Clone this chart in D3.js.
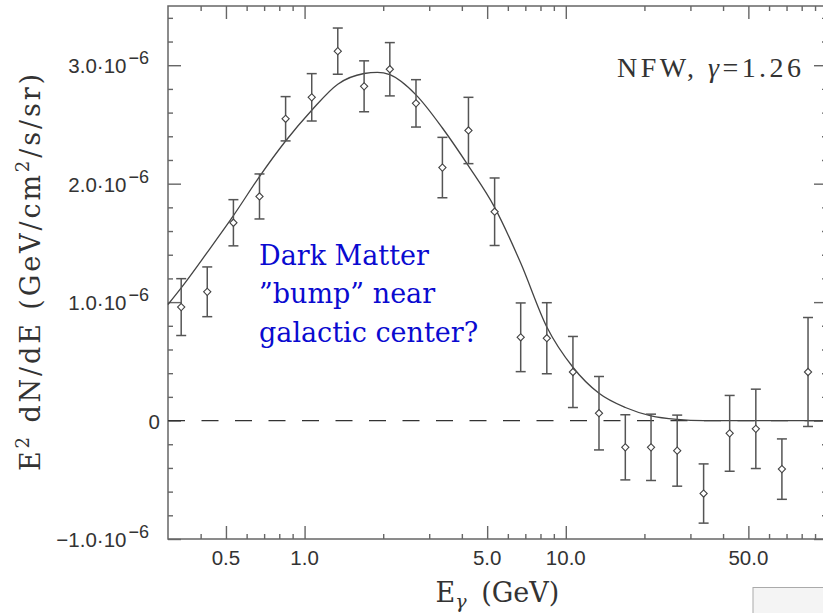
<!DOCTYPE html>
<meta charset="utf-8">
<style>
  body{ margin:0; background:#fff; }
  text.tick{ fill:#333; font-family:"Liberation Sans", Arial, sans-serif; font-size:20.5px; }
  text.serif{ fill:#333; font-family:"DejaVu Serif", serif; }
</style>

<svg width="823" height="613"></svg>

<script src="https://cdn.jsdelivr.net/npm/d3@7/dist/d3.min.js"></script>
<script>
  // data (flux in units of 1e-6 GeV/cm2/s/sr)
  const energies = [0.337, 0.424, 0.534, 0.672, 0.846, 1.065, 1.34, 1.69, 2.12, 2.67,
                    3.37, 4.24, 5.34, 6.72, 8.46, 10.65, 13.4, 16.9, 21.2, 26.7,
                    33.7, 42.4, 53.4, 67.2, 84.6]
  const fluxes = [0.958, 1.087, 1.67, 1.892, 2.548, 2.729, 3.119, 2.822, 2.966, 2.678,
                  2.136, 2.449, 1.763, 0.703, 0.695, 0.41, 0.062, -0.226, -0.226, -0.254,
                  -0.616, -0.108, -0.07, -0.41, 0.41]
  const errors = [0.24, 0.21, 0.195, 0.19, 0.187, 0.20, 0.195, 0.215, 0.225, 0.20,
                  0.255, 0.28, 0.285, 0.29, 0.30, 0.30, 0.31, 0.275, 0.28, 0.30,
                  0.25, 0.32, 0.335, 0.255, 0.46]

  // fitted model curve
  const curveE = [0.3, 0.337, 0.424, 0.534, 0.672, 0.846, 1.065, 1.34, 1.69, 1.9, 2.12, 2.67,
                  3.37, 4.24, 5.34, 6.72, 8.46, 10.65, 13.4, 16.9, 21.2, 26.7, 33.7, 100]
  const curveFlux = [0.98, 1.12, 1.42, 1.73, 2.06, 2.36, 2.62, 2.84, 2.93, 2.94, 2.92, 2.75,
                     2.47, 2.15, 1.80, 1.33, 0.79, 0.45, 0.23, 0.11, 0.04, 0.01, 0, 0]

  // ticks
  const xMajor = [0.5, 1, 5, 10, 50, 100]
  const xLabels = [0.5, 1, 5, 10, 50]
  const xMinor = [0.4, 0.6, 0.7, 0.8, 0.9, 2, 3, 4, 6, 7, 8, 9, 20, 30, 40, 60, 70, 80, 90]
  const yMajor = [-1, 0, 1, 2, 3]
  const yMinor = [-0.8, -0.6, -0.4, -0.2, 0.2, 0.4, 0.6, 0.8, 1.2, 1.4, 1.6, 1.8,
                  2.2, 2.4, 2.6, 2.8, 3.2, 3.4]

  const plot = {left: 168, right: 827, top: 6, bottom: 539}
  const axisColor = '#666'

  const svg = d3.select('svg')

  const x = d3.scaleLog().domain([0.3, 100]).range([plot.left, plot.right])
  const y = d3.scaleLinear().domain([-1, 3.5]).range([plot.bottom, plot.top])

  // frame
  svg.append('rect')
    .attr('x', plot.left).attr('y', plot.top)
    .attr('width', plot.right - plot.left).attr('height', plot.bottom - plot.top)
    .attr('fill', 'none').attr('stroke', axisColor).attr('stroke-width', 1.5)

  // inward ticks on all four sides
  function ticks(axisFn, scale, vals, size, tx, ty){
    svg.append('g')
      .attr('transform', 'translate('+tx+','+ty+')')
      .attr('color', axisColor)
      .call(axisFn(scale).tickValues(vals).tickSize(size).tickFormat(''))
      .call(g=>g.select('.domain').remove())
      .selectAll('line').attr('stroke-width', 1.4)
  }
  ticks(d3.axisBottom, x, xMajor, -13, 0, plot.bottom)
  ticks(d3.axisBottom, x, xMinor, -5, 0, plot.bottom)
  ticks(d3.axisTop, x, xMajor, -13, 0, plot.top)
  ticks(d3.axisTop, x, xMinor, -5, 0, plot.top)
  ticks(d3.axisLeft, y, yMajor, -13, plot.left, 0)
  ticks(d3.axisLeft, y, yMinor, -5, plot.left, 0)
  ticks(d3.axisLeft, y, yMajor, 13, plot.right, 0)
  ticks(d3.axisLeft, y, yMinor, 5, plot.right, 0)

  // x tick labels
  svg.selectAll('text.xlab')
    .data(xLabels)
    .enter()
    .append('text')
    .attr('class', 'tick')
    .attr('x', d=>x(d))
    .attr('y', 565)
    .attr('text-anchor', 'middle')
    .text(d=>d3.format('.1f')(d))

  // y tick labels: m·10^-6
  const ylab = svg.selectAll('text.ylab')
    .data(yMajor)
    .enter()
    .append('text')
    .attr('class', 'tick')
    .attr('x', d=> d === 0 ? 160 : 149)
    .attr('y', d=>y(d) + 8)
    .attr('text-anchor', 'end')
  ylab.append('tspan')
    .text(d=> d === 0 ? '0' : d3.format('.1f')(d).replace('-', '\u2212') + '\u00b710')
  ylab.filter(d=>d !== 0).append('tspan')
    .attr('dy', -9).attr('dx', 2)
    .style('font-size', '18px')
    .text('\u22126')

  // zero line
  svg.append('line')
    .attr('x1', plot.left).attr('x2', plot.right)
    .attr('y1', y(0)).attr('y2', y(0))
    .attr('stroke', '#333').attr('stroke-width', 1.3)
    .attr('stroke-dasharray', '17,16.5')

  // model curve
  const line = d3.line()
    .x((d, i)=>x(curveE[i]))
    .y(d=>y(d))
    .curve(d3.curveMonotoneX)
  svg.append('path')
    .attr('d', line(curveFlux))
    .attr('fill', 'none')
    .attr('stroke', '#444')
    .attr('stroke-width', 1.3)

  // error bars
  const bars = svg.selectAll('g.bar')
    .data(fluxes)
    .enter()
    .append('g')
    .attr('transform', (d, i)=>'translate('+x(energies[i])+',0)')
    .attr('stroke', '#555')
    .attr('stroke-width', 1.5)
  bars.append('line')
    .attr('y1', (d, i)=>y(d + errors[i]))
    .attr('y2', (d, i)=>y(d - errors[i]))
  bars.append('line')
    .attr('x1', -5).attr('x2', 5)
    .attr('y1', (d, i)=>y(d + errors[i])).attr('y2', (d, i)=>y(d + errors[i]))
  bars.append('line')
    .attr('x1', -5).attr('x2', 5)
    .attr('y1', (d, i)=>y(d - errors[i])).attr('y2', (d, i)=>y(d - errors[i]))
  bars.append('path')
    .attr('d', d3.symbol().type(d3.symbolSquare).size(26)())
    .attr('transform', d=>'translate(0,'+y(d)+') rotate(45)')
    .attr('fill', '#fff')
    .attr('stroke', '#444')
    .attr('stroke-width', 1.1)

  // axis titles
  const xt = svg.append('text')
    .attr('class', 'serif')
    .attr('x', (plot.left + plot.right)/2)
    .attr('y', 602)
    .attr('text-anchor', 'middle')
    .style('font-size', '27px')
  xt.append('tspan').text('E')
  xt.append('tspan').attr('dy', 6).style('font-size', '19px').style('font-style', 'italic').text('\u03b3')
  xt.append('tspan').attr('dy', -6).attr('dx', 6).text(' (GeV)')

  const yt = svg.append('text')
    .attr('class', 'serif')
    .attr('transform', 'translate(40,'+((plot.top + plot.bottom)/2)+') rotate(-90)')
    .attr('text-anchor', 'middle')
    .attr('textLength', 397)
    .attr('lengthAdjust', 'spacing')
    .style('font-size', '27px')
  yt.append('tspan').text('E')
  yt.append('tspan').attr('dy', -11).style('font-size', '18px').text('2')
  yt.append('tspan').attr('dy', 11).text(' dN/dE  (GeV/cm')
  yt.append('tspan').attr('dy', -11).style('font-size', '18px').text('2')
  yt.append('tspan').attr('dy', 11).text('/s/sr)')

  // model label
  const nfw = svg.append('text')
    .attr('class', 'serif')
    .attr('x', 617).attr('y', 77)
    .attr('textLength', 184)
    .attr('lengthAdjust', 'spacing')
    .style('font-family', '"Liberation Serif", serif')
    .style('font-size', '28px')
  nfw.append('tspan').text('NFW,  ')
  nfw.append('tspan').style('font-style', 'italic').text('\u03b3')
  nfw.append('tspan').text('=1.26')

  // annotation
  const note = ['Dark Matter', '\u201dbump\u201d near', 'galactic center?']
  svg.selectAll('text.note')
    .data(note)
    .enter()
    .append('text')
    .attr('x', 259)
    .attr('y', (d, i)=>265 + i*38.3)
    .style('font-family', '"DejaVu Serif", serif')
    .style('font-size', '27px')
    .attr('fill', '#0a0ad0')
    .text(d=>d)

  // grey box in the corner of the screenshot
  svg.append('rect')
    .attr('x', 753).attr('y', 587.5)
    .attr('width', 80).attr('height', 40)
    .attr('fill', '#f4f4f4').attr('stroke', '#aaa')
</script>
